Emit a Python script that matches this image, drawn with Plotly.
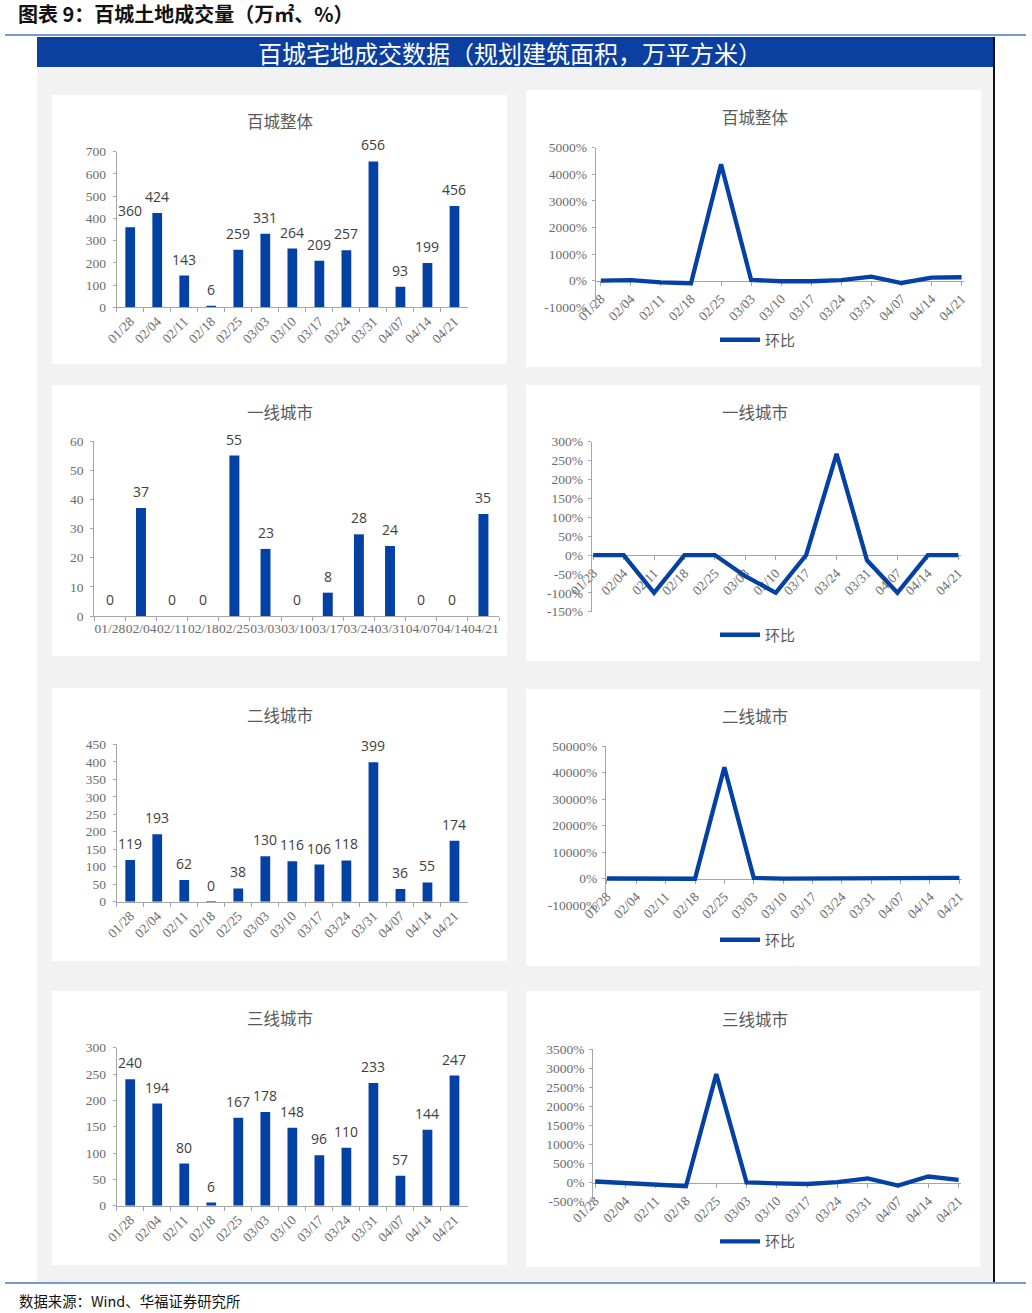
import plotly.graph_objects as go

W, H = 1032, 1313

# ---------------- data ----------------
dates = ["01/28", "02/04", "02/11", "02/18", "02/25", "03/03", "03/10",
         "03/17", "03/24", "03/31", "04/07", "04/14", "04/21"]

total_area = [360, 424, 143, 6, 259, 331, 264, 209, 257, 656, 93, 199, 456]
tier1_area = [0, 37, 0, 0, 55, 23, 0, 8, 28, 24, 0, 0, 35]
tier2_area = [119, 193, 62, 0.4, 38, 130, 116, 106, 118, 399, 36, 55, 174]
tier3_area = [240, 194, 80, 6, 167, 178, 148, 96, 110, 233, 57, 144, 247]

total_mom = [0, 18, -66, -96, 4375, 28, -20, -21, 23, 155, -86, 114, 129]
tier1_mom = [0, 0, -100, 0, 0, -56, -100, 0, 268, -14, -100, 0, 0]
tier2_mom = [0, 62, -68, -99, 42000, 242, -11, -9, 11, 238, -91, 53, 216]
tier3_mom = [30, -19, -59, -93, 2850, 7, -17, -35, 15, 112, -76, 160, 72]

total_area_ticks = [0, 100, 200, 300, 400, 500, 600, 700]
tier1_area_ticks = [0, 10, 20, 30, 40, 50, 60]
tier2_area_ticks = [0, 50, 100, 150, 200, 250, 300, 350, 400, 450]
tier3_area_ticks = [0, 50, 100, 150, 200, 250, 300]
total_mom_ticks = [-1000, 0, 1000, 2000, 3000, 4000, 5000]
tier1_mom_ticks = [-150, -100, -50, 0, 50, 100, 150, 200, 250, 300]
tier2_mom_ticks = [-10000, 0, 10000, 20000, 30000, 40000, 50000]
tier3_mom_ticks = [-500, 0, 500, 1000, 1500, 2000, 2500, 3000, 3500]

titles = ["百城整体", "一线城市", "二线城市", "三线城市"]
legend_name = "环比"
page_title = "图表 9：百城土地成交量（万㎡、%）"
band_title = "百城宅地成交数据（规划建筑面积，万平方米）"
source_text = "数据来源：Wind、华福证券研究所"

# ---------------- styles ----------------
BLUE = "#0441a4"
AXIS = "#a6a6a6"
TICKC = "#6b6b6b"
LABELC = "#404040"
TITLEC = "#595959"
CJK = "Noto Sans CJK SC"
SERIF = "Liberation Serif"


def fx(x):
    return x / W


def fy(y):
    return 1 - y / H


fig = go.Figure()
layout = {}
annotations = []
shapes = []

# background shapes
shapes.append(dict(type="rect", xref="paper", yref="paper", layer="below",
                   x0=fx(37), x1=fx(994), y0=fy(1283), y1=fy(67),
                   fillcolor="#f2f2f2", line=dict(width=0)))
shapes.append(dict(type="rect", xref="paper", yref="paper", layer="below",
                   x0=fx(37), x1=fx(994), y0=fy(67), y1=fy(37),
                   fillcolor="#0b40a0", line=dict(width=0)))
shapes.append(dict(type="line", xref="paper", yref="paper", layer="below",
                   x0=fx(994), x1=fx(994), y0=fy(1283), y1=fy(37),
                   line=dict(color="#111111", width=2)))
for yy in (35, 1283):
    shapes.append(dict(type="line", xref="paper", yref="paper", layer="below",
                       x0=fx(5), x1=fx(1026), y0=fy(yy), y1=fy(yy),
                       line=dict(color="#7899d2", width=2)))

cards = [
    (52, 507, 95, 364), (526, 981, 90, 367),
    (52, 507, 385, 656), (526, 980, 385, 661),
    (52, 507, 688, 961), (526, 980, 689, 966),
    (52, 507, 991, 1265), (526, 980, 991, 1267),
]
for x0, x1, y0, y1 in cards:
    shapes.append(dict(type="rect", xref="paper", yref="paper", layer="below",
                       x0=fx(x0), x1=fx(x1), y0=fy(y1), y1=fy(y0),
                       fillcolor="white", line=dict(width=0)))

# ---------------- bar charts ----------------
bar_specs = [
    (total_area, total_area_ticks, (116.7, 468), (151.7, 307.3), -45, 0.64, 121),
    (tier1_area, tier1_area_ticks, (94.3, 499), (441, 616), 0, 0.68, 412),
    (tier2_area, tier2_area_ticks, (116.7, 468), (744.3, 901.7), -45, 0.64, 715),
    (tier3_area, tier3_area_ticks, (116.7, 468), (1047.7, 1205.7), -45, 0.64, 1018),
]

for i, (vals, ticks, xd, yd, ang, gap, ty) in enumerate(bar_specs):
    n = i + 1
    xa = "x" if n == 1 else f"x{n}"
    ya = "y" if n == 1 else f"y{n}"
    fig.add_trace(go.Bar(x=dates, y=vals, xaxis=xa, yaxis=ya,
                         marker=dict(color=BLUE, line=dict(width=0)),
                         width=1 - gap, showlegend=False, hoverinfo="x+y"))
    layout["xaxis" if n == 1 else f"xaxis{n}"] = dict(
        domain=[fx(xd[0]), fx(xd[1])], anchor=ya, type="category",
        range=[-0.5, len(dates) - 0.5], showline=True, linecolor=AXIS,
        linewidth=1, ticks="outside", tickson="boundaries", ticklen=4,
        tickcolor=AXIS, tickangle=ang, tickmode="array", tickvals=dates,
        ticktext=dates, showgrid=False, fixedrange=True, automargin=False,
        tickfont=dict(family=SERIF, size=13.5, color=TICKC))
    layout["yaxis" if n == 1 else f"yaxis{n}"] = dict(
        domain=[fy(yd[1]), fy(yd[0])], anchor=xa, range=[ticks[0], ticks[-1]],
        showline=True, linecolor=AXIS, linewidth=1, ticks="outside", ticklen=3,
        tickcolor=AXIS, tickmode="array", tickvals=ticks,
        ticktext=[str(t) for t in ticks], showgrid=False, zeroline=False,
        fixedrange=True, automargin=False, ticklabelstandoff=4,
        tickfont=dict(family=SERIF, size=13.5, color=TICKC))
    for d, v in zip(dates, vals):
        annotations.append(dict(x=d, y=v, xref=xa, yref=ya, text=f"{v:.0f}",
                                showarrow=False, yanchor="bottom", yshift=5,
                                font=dict(family="Open Sans", size=14, color=LABELC)))
    annotations.append(dict(x=fx(280), y=fy(ty), xref="paper", yref="paper",
                            text=titles[i], showarrow=False, xanchor="center",
                            yanchor="middle",
                            font=dict(family=CJK, size=16.5, color=TITLEC)))

# ---------------- line charts ----------------
line_specs = [
    (total_mom, total_mom_ticks, (595.7, 964), (147.7, 307.3), (-0.17, 12.08), 117, 340),
    (tier1_mom, tier1_mom_ticks, (591.7, 961), (441.7, 611.7), (-0.05, 12.09), 412, 635),
    (tier2_mom, tier2_mom_ticks, (606, 962), (746, 905), (-0.03, 12.09), 716, 940),
    (tier3_mom, tier3_mom_ticks, (593.3, 961), (1049.3, 1201.7), (-0.06, 12.08), 1019, 1241.7),
]

for i, (vals, ticks, xd, yd, xr, ty, ly) in enumerate(line_specs):
    n = i + 5
    xa, ya = f"x{n}", f"y{n}"
    lg = "legend" if i == 0 else f"legend{i + 1}"
    ydom = [fy(yd[1]), fy(yd[0])]
    zero_pos = ydom[0] + (0 - ticks[0]) / (ticks[-1] - ticks[0]) * (ydom[1] - ydom[0])
    fig.add_trace(go.Scatter(x=dates, y=vals, xaxis=xa, yaxis=ya, mode="lines",
                             name=legend_name, legend=lg,
                             line=dict(color=BLUE, width=4.3),
                             showlegend=True))
    layout[f"xaxis{n}"] = dict(
        domain=[fx(xd[0]), fx(xd[1])], anchor="free", position=zero_pos,
        type="category", range=list(xr), showline=True, linecolor=AXIS,
        linewidth=1, ticks="outside", ticklen=4, tickcolor=AXIS,
        tickangle=-45, tickmode="array", tickvals=dates, ticktext=dates,
        showgrid=False, fixedrange=True, automargin=False, layer="below traces",
        tickfont=dict(family=SERIF, size=13.5, color=TICKC))
    layout[f"yaxis{n}"] = dict(
        domain=ydom, anchor=xa, range=[ticks[0], ticks[-1]],
        showline=True, linecolor=AXIS, linewidth=1, ticks="outside", ticklen=3,
        tickcolor=AXIS, tickmode="array", tickvals=ticks,
        ticktext=[f"{t}%" for t in ticks], showgrid=False, zeroline=False,
        fixedrange=True, automargin=False, ticklabelstandoff=2,
        tickfont=dict(family=SERIF, size=13.5, color=TICKC))
    layout[lg] = dict(x=fx(758), y=fy(ly), xanchor="center", yanchor="middle",
                      orientation="h", bgcolor="rgba(0,0,0,0)",
                      font=dict(family=CJK, size=15, color=TITLEC),
                      itemwidth=40)
    annotations.append(dict(x=fx(755), y=fy(ty), xref="paper", yref="paper",
                            text=titles[i], showarrow=False, xanchor="center",
                            yanchor="middle",
                            font=dict(family=CJK, size=16.5, color=TITLEC)))

# ---------------- page texts ----------------
annotations.append(dict(x=fx(16), y=fy(14), xref="paper", yref="paper",
                        text=f"<b>{page_title}</b>", showarrow=False,
                        xanchor="left", yanchor="middle",
                        font=dict(family=CJK, size=20, color="#111111")))
annotations.append(dict(x=fx(510), y=fy(52), xref="paper", yref="paper",
                        text=band_title, showarrow=False, xanchor="center",
                        yanchor="middle",
                        font=dict(family=CJK, size=24, color="white")))
annotations.append(dict(x=fx(17), y=fy(1300), xref="paper", yref="paper",
                        text=source_text, showarrow=False, xanchor="left",
                        yanchor="middle",
                        font=dict(family=CJK, size=14.4, color="#111111")))

fig.update_layout(
    template="none",
    width=W, height=H, margin=dict(l=0, r=0, t=0, b=0, pad=0, autoexpand=False),
    paper_bgcolor="white", plot_bgcolor="rgba(0,0,0,0)",
    shapes=shapes, annotations=annotations, barmode="group",
    font=dict(family=CJK), **layout)

fig.write_html("out.html", include_plotlyjs=True, full_html=True,
               config={"displayModeBar": False})
